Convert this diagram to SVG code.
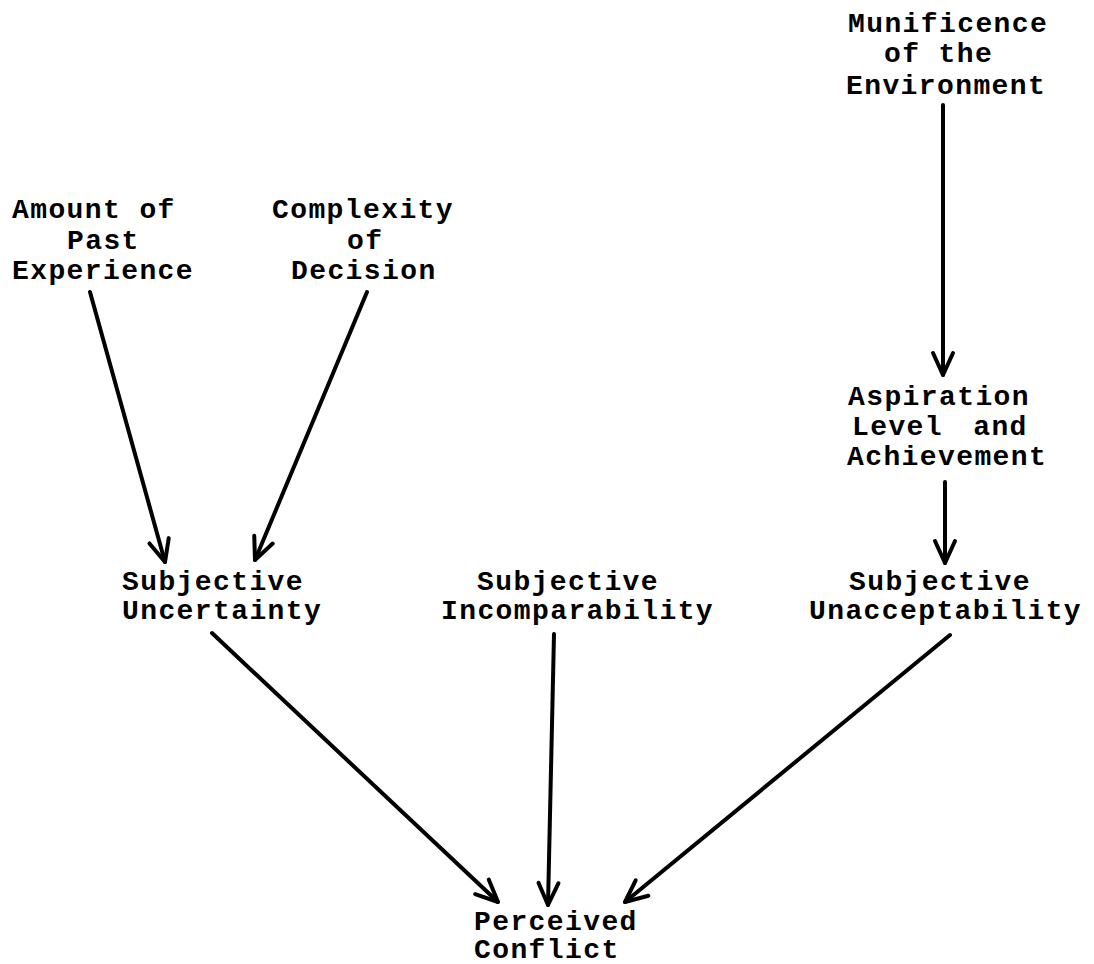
<svg xmlns="http://www.w3.org/2000/svg" width="1094" height="964" viewBox="0 0 1094 964">
<style>
text{font-family:"Liberation Mono","Courier New",monospace;font-weight:bold;font-size:28px;letter-spacing:1.4px;fill:#000}
.c{stroke:#000;stroke-width:4;fill:none;stroke-linecap:round}
</style>
<defs>
<marker id="ah" markerUnits="userSpaceOnUse" markerWidth="40" markerHeight="40" viewBox="-30 -20 40 40" refX="0" refY="0" orient="auto">
<path d="M-22,-10 L0,0 L-22,10" fill="none" stroke="#000" stroke-width="4" stroke-linecap="round" stroke-linejoin="round"/>
</marker>
</defs>
<rect width="1094" height="964" fill="#fff"/>
<g id="munificence"><text x="848" y="32">Munificence</text><text x="884" y="62">of the</text><text x="846" y="94">Environment</text></g>
<g id="past-experience"><text x="12" y="218">Amount of</text><text x="67" y="249">Past</text><text x="12" y="279">Experience</text></g>
<g id="complexity"><text x="272" y="218">Complexity</text><text x="347" y="249">of</text><text x="291" y="279">Decision</text></g>
<g id="aspiration"><text x="848" y="405">Aspiration</text><text x="852" y="435" word-spacing="12">Level and</text><text x="847" y="465">Achievement</text></g>
<g id="uncertainty"><text x="122" y="590">Subjective</text><text x="122" y="619">Uncertainty</text></g>
<g id="incomparability"><text x="477" y="590">Subjective</text><text x="441" y="619">Incomparability</text></g>
<g id="unacceptability"><text x="849" y="590">Subjective</text><text x="809" y="619">Unacceptability</text></g>
<g id="conflict"><text x="474" y="930">Perceived</text><text x="474" y="958">Conflict</text></g>
<g id="connectors">
<line class="c" x1="90" y1="292" x2="165" y2="562" marker-end="url(#ah)"/>
<line class="c" x1="367" y1="292" x2="255" y2="560" marker-end="url(#ah)"/>
<line class="c" x1="943" y1="105" x2="943" y2="375" marker-end="url(#ah)"/>
<line class="c" x1="945" y1="482" x2="945" y2="563" marker-end="url(#ah)"/>
<line class="c" x1="212" y1="633" x2="498" y2="902" marker-end="url(#ah)"/>
<line class="c" x1="554" y1="634" x2="548" y2="905" marker-end="url(#ah)"/>
<line class="c" x1="950" y1="635" x2="625" y2="902" marker-end="url(#ah)"/>
</g>
</svg>
